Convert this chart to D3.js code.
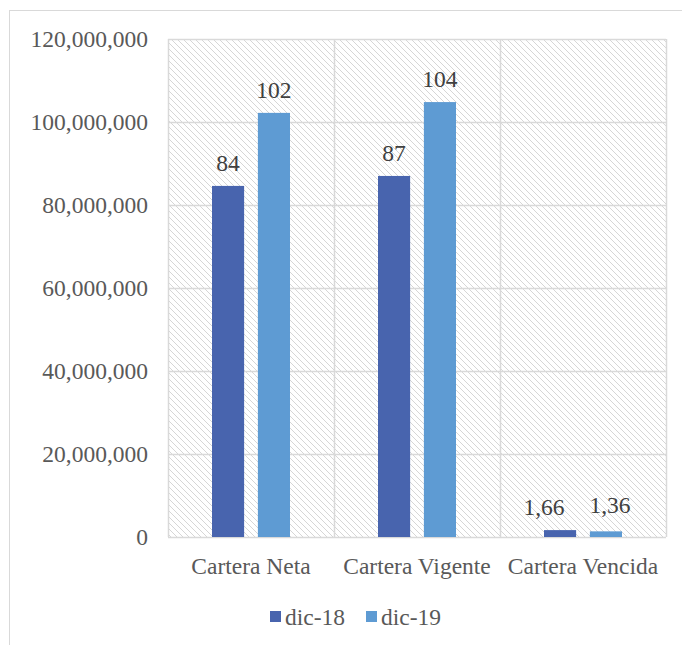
<!DOCTYPE html>
<html>
<head>
<meta charset="utf-8">
<script src="https://cdn.jsdelivr.net/npm/d3@7"></script>
<style>
  body { margin: 0; background: #fff; }
</style>
</head>
<body>
<script>
let categories = ["Cartera Neta", "Cartera Vigente", "Cartera Vencida"],
    series = ["dic-18", "dic-19"],
    dic18 = [84600000, 87000000, 1660000],
    dic19 = [102200000, 104800000, 1360000],
    labels18 = ["84", "87", "1,66"],
    labels19 = ["102", "104", "1,36"],
    yTicks = [0, 20000000, 40000000, 60000000, 80000000, 100000000, 120000000];

let colors = ["#4864AE", "#5E9BD3"];
const FONT = "Liberation Serif";
const FS = "23.5px";

width = 682,
    height = 645;

let plot = { left: 168, right: 666, top: 39, bottom: 537 };

const svg = d3.select("body")
    .append("svg")
    .attr("width", width)
    .attr("height", height);

// hatch pattern for plot background
const defs = svg.append("defs");
const pat = defs.append("pattern")
    .attr("id", "hatch")
    .attr("patternUnits", "userSpaceOnUse")
    .attr("width", 6)
    .attr("height", 6);
pat.append("path")
    .attr("d", "M-1,-1 L7,7 M-1,5 L1,7 M5,-1 L7,1")
    .attr("stroke", "#d6d6d6")
    .attr("stroke-width", 1);

// outer chart border
svg.append("rect")
    .attr("x", 9.5).attr("y", 10.5)
    .attr("width", 700).attr("height", 700)
    .attr("fill", "none")
    .attr("stroke", "#d9d9d9");

const x0 = d3.scaleBand()
    .domain(categories)
    .range([plot.left, plot.right]);

const x1 = d3.scaleBand()
    .domain(series)
    .range([0, 78])
    .paddingInner(0.3);

const y = d3.scaleLinear()
    .domain([0, 120000000])
    .range([plot.bottom, plot.top]);

svg.append("rect")
    .attr("x", plot.left).attr("y", plot.top)
    .attr("width", plot.right - plot.left)
    .attr("height", plot.bottom - plot.top)
    .attr("fill", "url(#hatch)");

// gridlines
svg.append("g")
    .selectAll("line")
    .data(yTicks)
    .enter()
    .append("line")
    .attr("x1", plot.left).attr("x2", plot.right)
    .attr("y1", d => Math.round(y(d)) + 0.5)
    .attr("y2", d => Math.round(y(d)) + 0.5)
    .attr("stroke", "#d9d9d9")
    .attr("stroke-width", 1.5);

const bounds = categories.map(c => x0(c)).concat([plot.right]);
svg.append("g")
    .selectAll("line")
    .data(bounds)
    .enter()
    .append("line")
    .attr("x1", d => Math.round(d) + 0.5).attr("x2", d => Math.round(d) + 0.5)
    .attr("y1", plot.top).attr("y2", plot.bottom)
    .attr("stroke", "#d9d9d9")
    .attr("stroke-width", 1.5);

// y axis
const yAxis = d3.axisLeft(y)
    .tickValues(yTicks)
    .tickSize(0)
    .tickPadding(20)
    .tickFormat(d3.format(","));

const yg = svg.append("g")
    .attr("transform", "translate(" + plot.left + ",0)")
    .call(yAxis);
yg.select(".domain").remove();
yg.selectAll("text")
    .style("font-family", FONT)
    .style("font-size", FS)
    .attr("fill", "#595959");

// x axis
const xAxis = d3.axisBottom(x0).tickSize(0).tickPadding(20);
const xg = svg.append("g")
    .attr("transform", "translate(0," + plot.bottom + ")")
    .call(xAxis);
xg.select(".domain").remove();
xg.selectAll("text")
    .style("font-family", FONT)
    .style("font-size", FS)
    .attr("fill", "#595959");

// bars
const data = [dic18, dic19];
const lbls = [labels18, labels19];
// small labels on the tiny bars get nudged apart so they don't collide
function nudgeX(si, i) {
    if (i !== 2) return 0;
    return si === 0 ? -16 : 4;
}
function nudgeY(si, i) {
    return (i === 2 && si === 1) ? -3 : 0;
}
series.forEach((s, si) => {
    const g = svg.append("g");
    g.selectAll("rect")
        .data(categories)
        .enter()
        .append("rect")
        .attr("x", c => x0(c) + x0.bandwidth() / 2 - 39 + x1(s))
        .attr("y", (c, i) => y(data[si][i]))
        .attr("width", x1.bandwidth())
        .attr("height", (c, i) => plot.bottom - y(data[si][i]))
        .attr("fill", colors[si]);

    g.selectAll("text")
        .data(categories)
        .enter()
        .append("text")
        .attr("x", (c, i) => x0(c) + x0.bandwidth() / 2 - 39 + x1(s) + x1.bandwidth() / 2 + nudgeX(si, i))
        .attr("y", (c, i) => y(data[si][i]) - 15 + nudgeY(si, i))
        .attr("text-anchor", "middle")
        .style("font-family", FONT)
        .style("font-size", FS)
        .attr("fill", "#404040")
        .text((c, i) => lbls[si][i]);
});

// legend
const legend = svg.append("g")
    .attr("transform", "translate(270,617)");
const lx = [0, 96];
series.forEach((s, i) => {
    legend.append("rect")
        .attr("x", lx[i]).attr("y", -6)
        .attr("width", 11).attr("height", 11)
        .attr("fill", colors[i]);
    legend.append("text")
        .attr("x", lx[i] + 15).attr("y", 8)
        .style("font-family", FONT)
        .style("font-size", FS)
        .attr("fill", "#595959")
        .text(s);
});
</script>
</body>
</html>
